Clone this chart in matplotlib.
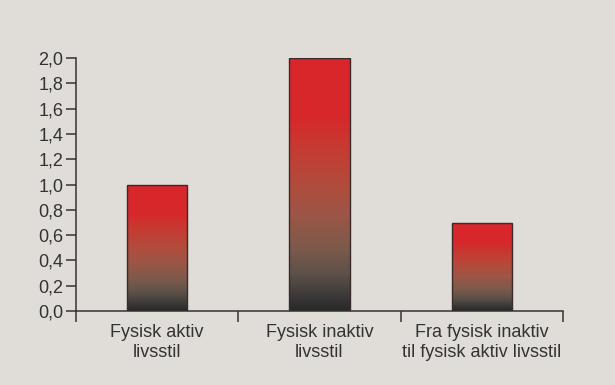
import numpy as np
import matplotlib
matplotlib.use("Agg")
import matplotlib.pyplot as plt
from matplotlib.colors import LinearSegmentedColormap

# Relativ risiko per gruppe
kategorier = ["Fysisk aktiv\nlivsstil", "Fysisk inaktiv\nlivsstil",
              "Fra fysisk inaktiv\ntil fysisk aktiv livsstil"]
verdier = [1.0, 2.0, 0.7]
y_ticks = [0.0, 0.2, 0.4, 0.6, 0.8, 1.0, 1.2, 1.4, 1.6, 1.8, 2.0]

bg = "#e0ddd8"
tekst = "#333333"

plt.rcParams['font.family'] = ['Liberation Sans', 'DejaVu Sans']

# fargeovergang fra mørk bunn til rød topp
gradient = LinearSegmentedColormap.from_list("soyle", [
    (0.00, "#282828"),
    (0.06, "#3c3a39"),
    (0.15, "#5e5249"),
    (0.25, "#7d5a4b"),
    (0.38, "#9c5646"),
    (0.52, "#b44a3b"),
    (0.65, "#c63a31"),
    (0.76, "#d6292c"),
    (1.00, "#d9262b"),
])

fig = plt.figure(figsize=(6.15, 3.85), dpi=100, facecolor=bg)
ax = fig.add_axes([0.1236, 0.192, 0.7918, 0.657])
ax.set_facecolor(bg)

x = np.arange(len(kategorier))
bars = ax.bar(x, verdier, width=0.37, facecolor="none",
              edgecolor="#3a2a2a", linewidth=1.0, zorder=3)

grad = np.linspace(0, 1, 256).reshape(-1, 1)
for b in bars:
    x0, y0 = b.get_x(), b.get_y()
    w, h = b.get_width(), b.get_height()
    im = ax.imshow(grad, cmap=gradient, origin="lower", aspect="auto",
                   extent=[x0, x0 + w, y0, y0 + h], zorder=2)
    im.set_clip_path(b)

ax.set_xlim(-0.5, len(kategorier) - 0.5)
ax.set_ylim(0, 2.0)

ax.set_yticks(y_ticks)
ax.set_yticklabels([f"{v:.1f}".replace(".", ",") for v in y_ticks])
ax.tick_params(axis="y", direction="out", length=7, width=1.1,
               color=tekst, labelcolor=tekst, labelsize=13, pad=2)

ax.set_xticks(x)
ax.set_xticklabels(kategorier, linespacing=1.3)
ax.tick_params(axis="x", which="major", length=0, labelcolor=tekst,
               labelsize=13, pad=9)
ax.set_xticks(np.arange(-0.5, len(kategorier)), minor=True)
ax.tick_params(axis="x", which="minor", direction="out", length=8,
               width=1.1, color=tekst)

for side in ["top", "right"]:
    ax.spines[side].set_visible(False)
for side in ["left", "bottom"]:
    ax.spines[side].set_color(tekst)
    ax.spines[side].set_linewidth(1.1)

fig.savefig("out.png", dpi=100, facecolor=bg)
